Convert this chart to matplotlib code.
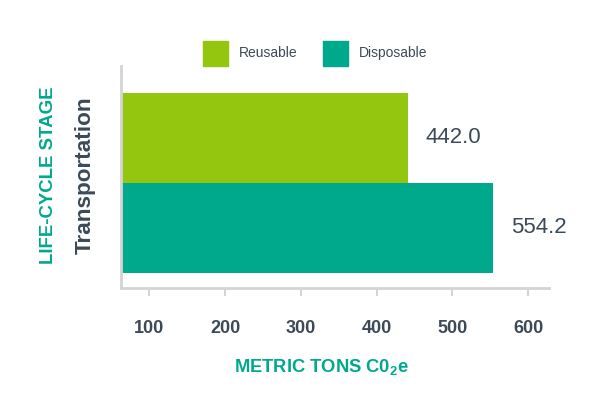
import matplotlib
matplotlib.use("Agg")
import matplotlib.pyplot as plt
from matplotlib.patches import Rectangle

stage = "Transportation"
series = ["Reusable", "Disposable"]
values = [442.0, 554.2]
colors = ["#95c60f", "#00a98c"]
xticks = [100, 200, 300, 400, 500, 600]

dark = "#3c4a58"
teal = "#00a98c"
grid = "#d4d4d4"

plt.rcParams["font.family"] = ["Liberation Sans", "DejaVu Sans"]
plt.rcParams["mathtext.fontset"] = "custom"
plt.rcParams["mathtext.rm"] = "Liberation Sans"
plt.rcParams["mathtext.bf"] = "Liberation Sans:bold"

fig = plt.figure(figsize=(5.9, 4.2), dpi=100)
ax = fig.add_axes([121/590, 1-288/420, (549-121)/590, (288-66)/420])

ypos = [1, 0]
for y, v, c in zip(ypos, values, colors):
    ax.barh(y, v, height=1.0, color=c, left=0)
    ax.text(v + 23, y, f"{v:.1f}", va="center", ha="left", fontsize=16,
            color=dark)

ax.set_xlim(62.6, 627.7)
ax.set_ylim(-0.667, 1.8)
ax.set_yticks([])
ax.set_xticks(xticks)
ax.set_xticklabels([str(t) for t in xticks], fontsize=13, fontweight="bold", color=dark)
ax.tick_params(axis="x", length=6, width=1.5, color=grid, pad=17)
for s in ["top", "right"]:
    ax.spines[s].set_visible(False)
for s in ["left", "bottom"]:
    ax.spines[s].set_color(grid)
    ax.spines[s].set_linewidth(2)

# legend
lx = [203, 323]
for x0, name, c in zip(lx, series, colors):
    fig.patches.append(Rectangle((x0/590, 1-66/420), 25/590, 25/420,
                                 transform=fig.transFigure, color=c))
    fig.text((x0+36)/590, 1-53/420, name, fontsize=10, color=dark,
             va="center", ha="left")

fig.text(321/590, 1-367/420, r"METRIC TONS C0$_\mathbf{2}$e", fontsize=13.2,
         fontweight="bold", color=teal, ha="center", va="center")
fig.text(49/590, 1-175/420, "LIFE-CYCLE STAGE", fontsize=13.4, fontweight="bold",
         color=teal, ha="center", va="center", rotation=90)
fig.text(85/590, 1-175/420, stage, fontsize=16.2, fontweight="bold",
         color=dark, ha="center", va="center", rotation=90)

fig.savefig("out.png", dpi=100)
